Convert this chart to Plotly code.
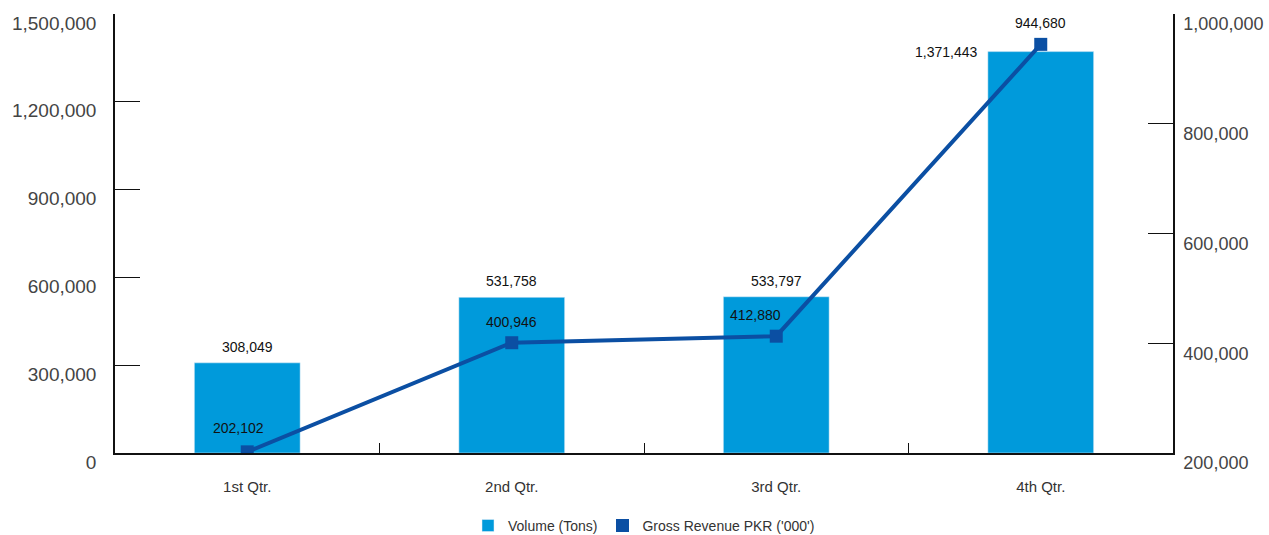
import plotly.graph_objects as go

categories = ["1st Qtr.", "2nd Qtr.", "3rd Qtr.", "4th Qtr."]
volume = [308049, 531758, 533797, 1371443]
revenue = [202102, 400946, 412880, 944680]
left_ticks = [0, 300000, 600000, 900000, 1200000, 1500000]
right_ticks = [200000, 400000, 600000, 800000, 1000000]

BAR = "#009ADB"
LINE = "#0B4FA3"
FONT = "Liberation Sans, Arial, sans-serif"

fig = go.Figure()
fig.add_trace(go.Bar(x=categories, y=volume, name="Volume (Tons)", marker_color=BAR,
                     width=0.4, yaxis="y"))
fig.add_trace(go.Scatter(x=categories, y=revenue, name="Gross Revenue PKR ('000')",
                         mode="lines+markers", yaxis="y2", showlegend=False,
                         line=dict(color=LINE, width=4),
                         marker=dict(symbol="square", size=13, color=LINE)))
fig.add_trace(go.Scatter(x=[None], y=[None], name="Gross Revenue PKR ('000')",
                         mode="markers", yaxis="y2",
                         marker=dict(symbol="square", size=13, color=LINE)))

ann = []
for c, v in zip(categories, volume):
    if v == max(volume):
        ann.append(dict(x=c, y=v, yref="y", text=f"{v:,}", showarrow=False,
                        xshift=-95, yshift=0, font=dict(size=14, color="#111")))
    else:
        ann.append(dict(x=c, y=v, yref="y", text=f"{v:,}", showarrow=False,
                        yshift=16, font=dict(size=14, color="#111")))
rev_shift = [(-9, 24), (0, 21), (-21, 21), (0, 21)]
for (c, v), (dx, dy) in zip(zip(categories, revenue), rev_shift):
    ann.append(dict(x=c, y=v, yref="y2", text=f"{v:,}", showarrow=False,
                    xshift=dx, yshift=dy, font=dict(size=14, color="#111")))

fig.update_layout(
    width=1269, height=535,
    margin=dict(l=115, r=96, t=14, b=82, autoexpand=False),
    paper_bgcolor="white", plot_bgcolor="white",
    font=dict(family=FONT, color="#333"),
    bargap=0.6,
    xaxis=dict(type="category", showline=True, linecolor="#111", linewidth=1.5,
               ticks="inside", tickson="boundaries", ticklen=10, tickcolor="#111",
               tickfont=dict(size=15, color="#333"), ticklabelstandoff=19,
               showgrid=False, zeroline=False, automargin=False),
    yaxis=dict(range=[0, 1500000], tickvals=left_ticks, tickformat=",",
               showline=True, linecolor="#111", linewidth=1.5,
               ticks="inside", ticklen=25, tickcolor="#111",
               tickfont=dict(size=19, color="#444"), ticklabelstandoff=13,
               ticklabelshift=9, ticklabeloverflow="allow",
               showgrid=False, zeroline=False, automargin=False),
    yaxis2=dict(range=[200000, 1000000], tickvals=right_ticks, tickformat=",",
                overlaying="y", side="right",
                showline=True, linecolor="#111", linewidth=1.5,
                ticks="inside", ticklen=25, tickcolor="#111",
                tickfont=dict(size=18, color="#444"), ticklabelstandoff=5,
                ticklabelshift=10, ticklabeloverflow="allow",
                showgrid=False, zeroline=False, automargin=False),
    legend=dict(orientation="h", x=0.5, xanchor="center",
                yref="container", y=0.017, yanchor="middle",
                font=dict(size=14, color="#333"), itemwidth=30, traceorder="normal"),
    annotations=ann,
)

fig.write_html("out.html")
